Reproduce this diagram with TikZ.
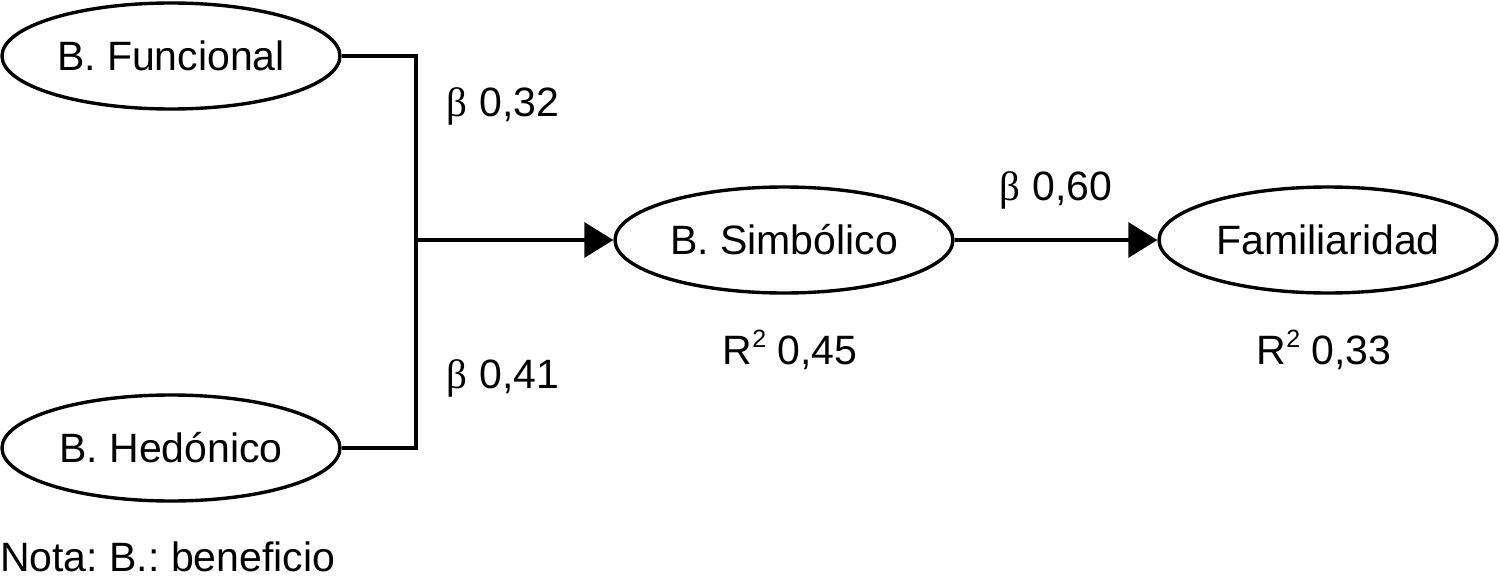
\documentclass[tikz,border=0pt]{standalone}
\usepackage{fontspec}
\setmainfont{Liberation Sans}
\newfontfamily\betafont{Liberation Serif}
\usetikzlibrary{shapes.geometric,arrows.meta}
\frenchspacing
\newcommand{\bt}{{\betafont β}}
\newcommand{\rsq}{R\raisebox{0.42em}{\fontsize{25}{25}\selectfont 2}}
\begin{document}
\begin{tikzpicture}[x=1pt,y=-1pt,
  var/.style={draw,ellipse,line width=3.4pt,minimum width=338pt,minimum height=106pt,inner sep=0pt,font=\fontsize{41}{48}\selectfont},
  lbl/.style={inner sep=0pt,font=\fontsize{41}{48}\selectfont},
  conn/.style={line width=3.4pt},
  arr/.style={line width=3.4pt,-{Triangle[length=29pt,width=35pt]}}]
\useasboundingbox (0,0) rectangle (1500,581);
\node[var] (fun) at (171,56) {B. Funcional};
\node[var] (hed) at (171,448) {B. Hedónico};
\node[var] (sim) at (784,240) {B. Simbólico};
\node[var] (fam) at (1328,240) {Familiaridad};
\coordinate (j) at (416,240);
\draw[conn] (fun.east) -| (j) |- (hed.east);
\draw[arr] (j) -- (sim.west);
\draw[arr] (sim.east) -- (fam.west);
\node[lbl] (b1) at (503,106) {\bt\ 0,32};
\node[lbl] (b2) at (503,378) {\bt\ 0,41};
\node[lbl] (b3) at (1056,190) {\bt\ 0,60};
\node[lbl] (r1) at (790,350) {\rsq\ 0,45};
\node[lbl] (r2) at (1324,350) {\rsq\ 0,33};
\node[lbl,anchor=west] (nota) at (0,557) {Nota: B.: beneficio};
\end{tikzpicture}
\end{document}
